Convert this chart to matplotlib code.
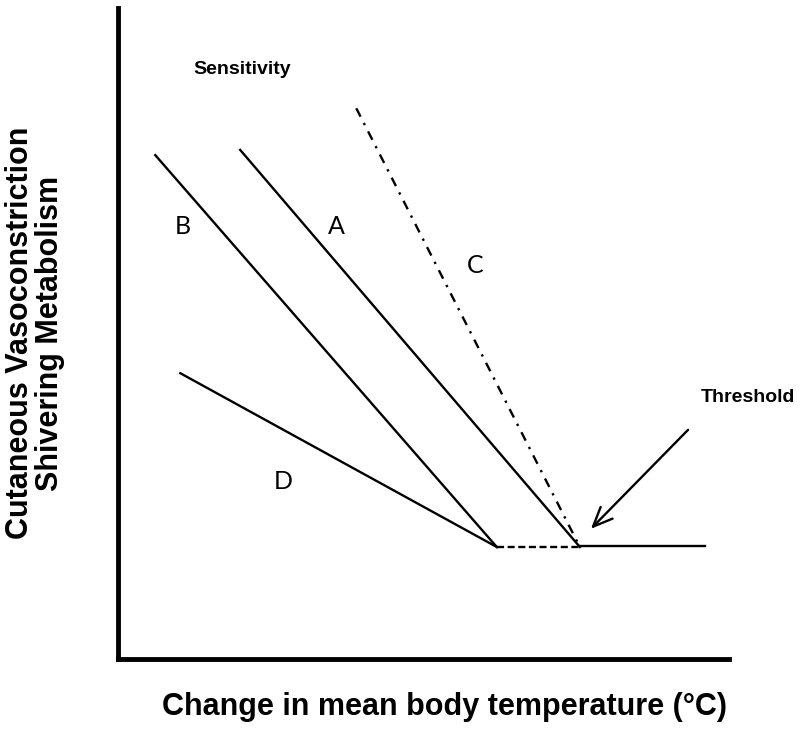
import matplotlib
matplotlib.use("Agg")
import matplotlib.pyplot as plt

plt.rcParams['font.family'] = ['Liberation Sans', 'DejaVu Sans']

# Schematic line endpoints (data units: x = temperature change, y = response)
line_b_x = [6.1, 62.0]
line_b_y = [77.4, 17.2]
line_a_x = [20.0, 75.6]
line_a_y = [78.2, 17.2]
line_c_x = [39.0, 75.6]
line_c_y = [84.6, 17.2]
line_d_x = [10.2, 62.0]
line_d_y = [43.9, 17.2]
dashed_x = [62.0, 75.6]
dashed_y = [17.2, 17.2]
flat_x = [75.6, 96.1]
flat_y = [17.4, 17.4]
arrow_tail = (93.3, 35.2)
arrow_head = (77.4, 20.0)

labels = ["B", "A", "C", "D"]
label_x = [10.6, 35.8, 58.4, 27.0]
label_y = [66.5, 66.5, 60.5, 27.2]

fig = plt.figure(figsize=(8, 7.29), dpi=100)
ax = fig.add_axes([118/800, (729-659)/729, (729-118)/800, (659-8)/729])
ax.set_xlim(0, 100)
ax.set_ylim(0, 100)

lw = 1.7
ax.plot(line_b_x, line_b_y, color='black', lw=lw)
ax.plot(line_a_x, line_a_y, color='black', lw=lw)
ax.plot(line_c_x, line_c_y, color='black', lw=lw, linestyle=(0, (4, 3, 1, 3)))
ax.plot(line_d_x, line_d_y, color='black', lw=lw)
ax.plot(dashed_x, dashed_y, color='black', lw=lw, linestyle=(0, (3, 1.5)))
ax.plot(flat_x, flat_y, color='black', lw=lw)
ax.annotate("", xy=arrow_head, xytext=arrow_tail,
            arrowprops=dict(arrowstyle='->,head_length=1.4,head_width=0.6',
                            color='black', lw=lw, shrinkA=0, shrinkB=0))

for t, x, y in zip(labels, label_x, label_y):
    ax.text(x, y, t, fontsize=18, ha='center', va='center',
            family=['Lato', 'DejaVu Sans'])

ax.text(20.3, 90.5, "Sensitivity", fontsize=14, fontweight='bold',
        ha='center', va='center')
ax.text(103.1, 40.2, "Threshold", fontsize=14, fontweight='bold',
        ha='center', va='center', clip_on=False)

for s in ['top', 'right']:
    ax.spines[s].set_visible(False)
for s in ['left', 'bottom']:
    ax.spines[s].set_linewidth(3.5)
ax.set_xticks([])
ax.set_yticks([])

fig.text(444/800, 1 - 707/729, "Change in mean body temperature (°C)",
         fontsize=22, fontweight='bold', ha='center', va='center')
fig.text(35/800, 1 - 333/729, "Cutaneous Vasoconstriction\nShivering Metabolism",
         fontsize=22, fontweight='bold', ha='center', va='center',
         rotation=90, linespacing=1.0)

fig.savefig("out.png", dpi=100, facecolor='white')
